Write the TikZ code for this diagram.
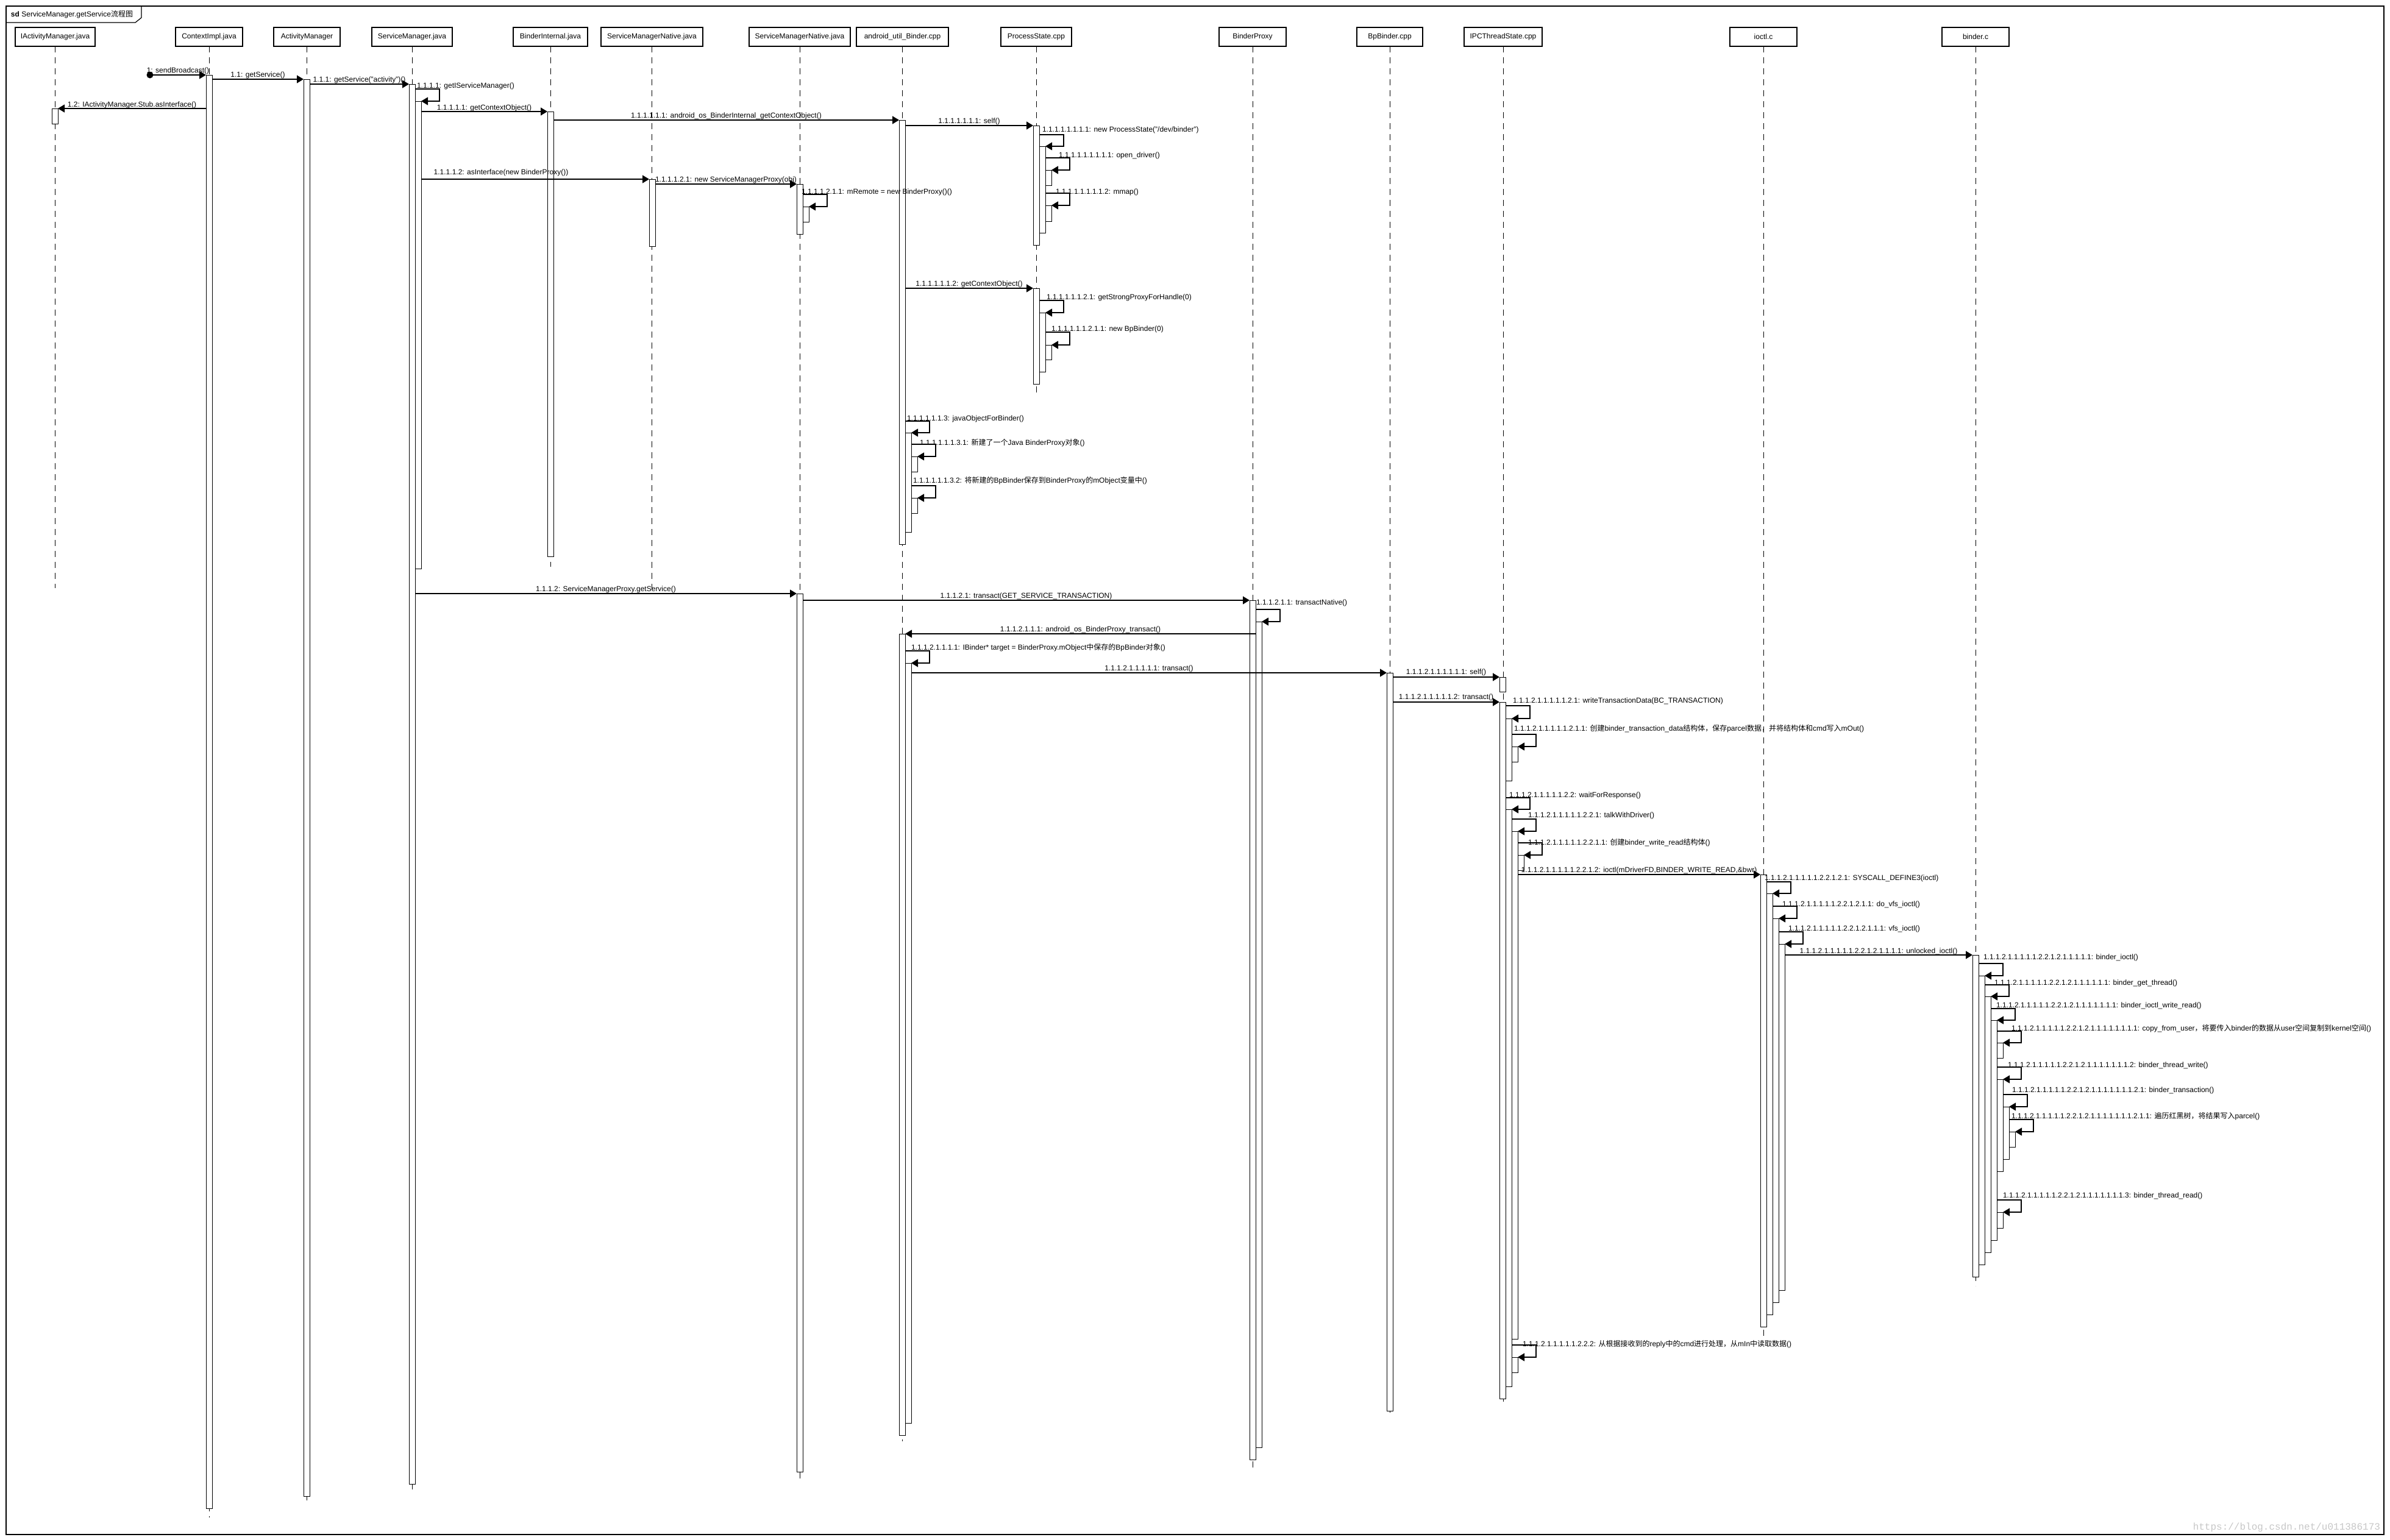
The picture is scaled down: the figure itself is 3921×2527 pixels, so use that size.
\documentclass[tikz,border=0pt]{standalone}
\usepackage{fontspec}
\setmainfont{Liberation Sans}
\newfontfamily\cjk{Noto Sans CJK SC}
\newfontfamily\wmfont{Liberation Mono}
\usetikzlibrary{arrows.meta}
\newcommand\zh[1]{{\cjk #1}}
\newcommand\hb[4]{\node[hdr, minimum width={(#3-#2)*0.25pt}] (#1) at ({(#2+#3)/2},60.5) {#4};
  \draw[line width=0.6pt] (#1.south west) -- (#1.south east) -- (#1.north east);}
\newcommand\lifel[2]{\draw[lifeline] (#1.south) -- (#1.south |- 0,#2);}
\newcommand\actb[4]{\node[abar, minimum height={(#4-#3)*0.25pt}] (#1) at (#2,#3) {};}
\newcommand\msgR[6]{\draw[msg] (#2.east |- 0,#4) -- node[midway, yshift={(#4-#5)*0.25pt}] (#1) {#6} (#3.west |- 0,#4);}
\newcommand\msgRx[7]{\draw[msg] (#2.east |- 0,#4) -- (#3.west |- 0,#4); \node (#1) at (#5,#6) {#7};}
\newcommand\msgL[6]{\draw[msg] (#2.west |- 0,#4) -- node[midway, yshift={(#4-#5)*0.25pt}] (#1) {#6} (#3.east |- 0,#4);}
\newcommand\msgS[8]{\draw[msg] (#2.east |- 0,#4) -- ++(40,0) |- (#3.east |- 0,#5); \node[anchor=west] (#1) at (#6,#7) {#8};}
\begin{document}
\begin{tikzpicture}[x=0.25pt,y=-0.25pt,
 every node/.style={font=\fontsize{3pt}{3.6pt}\selectfont, inner sep=0pt, outer sep=0pt},
 hdr/.style={draw, line width=0.3pt, minimum height=7.75pt, fill=white},
 lifeline/.style={line width=0.25pt, dash pattern=on 2.5pt off 2pt},
 abar/.style={draw, fill=white, line width=0.25pt, minimum width=2.5pt, anchor=north west},
 msg/.style={line width=0.3pt, -{Triangle[length=2.75pt,width=3.25pt]}}]
\fill[white] (0,0) rectangle (3921,2527);
\useasboundingbox (0,0) rectangle (3921,2527);
% frame
\draw[line width=0.35pt] (10,10) rectangle (3911,2518);
\draw[line width=0.3pt] (10,37) -- (222,37) -- (232,29) -- (232,10);
\node[anchor=west] (title) at (18,24) {\textbf{sd} ServiceManager.getService\zh{流程图}};
% headers
\hb{hIAM}{25}{156}{IActivityManager.java}
\hb{hCtx}{288}{398}{ContextImpl.java}
\hb{hAM}{449}{558}{ActivityManager}
\hb{hSM}{610}{742}{ServiceManager.java}
\hb{hBI}{842}{964}{BinderInternal.java}
\hb{hSMN}{986}{1153}{ServiceManagerNative.java}
\hb{hSMP}{1229}{1395}{ServiceManagerNative.java}
\hb{hUB}{1405}{1556}{android\_util\_Binder.cpp}
\hb{hPS}{1642}{1758}{ProcessState.cpp}
\hb{hBP}{2000}{2110}{BinderProxy}
\hb{hBB}{2226}{2334}{BpBinder.cpp}
\hb{hIPC}{2402}{2530}{IPCThreadState.cpp}
\hb{hIO}{2838}{2948}{ioctl.c}
\hb{hBC}{3186}{3296}{binder.c}
% lifelines
\lifel{hIAM}{965}
\lifel{hCtx}{2490}
\lifel{hAM}{2468}
\lifel{hSM}{2450}
\lifel{hBI}{930}
\lifel{hSMN}{967}
\lifel{hSMP}{2428}
\lifel{hUB}{2365}
\lifel{hPS}{645}
\lifel{hBP}{2408}
\lifel{hBB}{2325}
\lifel{hIPC}{2305}
\lifel{hIO}{2192}
\lifel{hBC}{2110}
% activation bars
\actb{ctx}{338}{123}{2475}
\actb{iam}{85}{178}{203}
\actb{am}{498}{130}{2455}
\actb{sm}{671}{138}{2435}
\actb{smA}{681}{166}{933}
\actb{bi}{898}{183}{913}
\actb{ubA}{1475}{197}{893}
\actb{ubAa}{1485}{710}{873}
\actb{ubAb}{1495}{749}{774}
\actb{ubAc}{1495}{817}{842}
\actb{ubB}{1475}{1040}{2355}
\actb{ubBa}{1485}{1088}{2335}
\actb{psA}{1695}{206}{402}
\actb{psAa}{1705}{240}{382}
\actb{psAb}{1715}{279}{304}
\actb{psAc}{1715}{337}{363}
\actb{psB}{1695}{473}{630}
\actb{psBa}{1705}{513}{610}
\actb{psBb}{1715}{566}{590}
\actb{smn}{1065}{294}{404}
\actb{smpA}{1307}{302}{384}
\actb{smpAa}{1317}{339}{364}
\actb{smpB}{1307}{974}{2415}
\actb{bp}{2050}{985}{2395}
\actb{bpa}{2060}{1020}{2375}
\actb{bb}{2275}{1104}{2315}
\actb{ipcA}{2460}{1111}{1135}
\actb{ipcB}{2460}{1152}{2295}
\actb{ipcBa}{2470}{1179}{1281}
\actb{ipcBb}{2480}{1225}{1250}
\actb{ipcBc}{2470}{1328}{2275}
\actb{ipcBd}{2480}{1364}{2197}
\actb{ipcBe}{2490}{1403}{1428}
\actb{ipcBf}{2480}{2227}{2252}
\actb{io}{2888}{1435}{2177}
\actb{ioa}{2898}{1466}{2157}
\actb{iob}{2908}{1507}{2137}
\actb{ioc}{2918}{1549}{2117}
\actb{bc}{3236}{1567}{2095}
\actb{bca}{3246}{1601}{2075}
\actb{bcb}{3256}{1635}{2055}
\actb{bcc}{3266}{1674}{2035}
\actb{bcd}{3276}{1711}{1736}
\actb{bce}{3276}{1771}{1922}
\actb{bcf}{3286}{1816}{1902}
\actb{bcg}{3296}{1857}{1882}
\actb{bch}{3276}{1989}{2015}
% messages
\node[circle, fill=black, minimum size=2.75pt] (start) at (246,123) {};
\draw[msg] (start.center) -- node[midway, yshift=1.75pt] (m1) {1: sendBroadcast()} (ctx.west |- 0,123);
\msgR{m2}{ctx}{am}{130}{123}{1.1: getService()}
\msgR{m3}{am}{sm}{138}{131}{1.1.1: getService("activity")()}
\msgS{m4}{sm}{smA}{146}{166}{684}{141}{1.1.1.1: getIServiceManager()}
\msgL{m5}{ctx}{iam}{178}{172}{1.2: IActivityManager.Stub.asInterface()}
\msgR{m6}{smA}{bi}{183}{177}{1.1.1.1.1: getContextObject()}
\msgR{m7}{bi}{ubA}{197}{190}{1.1.1.1.1.1: android\_os\_BinderInternal\_getContextObject()}
\msgR{m8}{ubA}{psA}{206}{199}{1.1.1.1.1.1.1: self()}
\msgS{m9}{psA}{psAa}{221}{240}{1710}{213}{1.1.1.1.1.1.1.1: new ProcessState("/dev/binder")}
\msgS{m10}{psAa}{psAb}{259}{279}{1737}{255}{1.1.1.1.1.1.1.1.1: open\_driver()}
\msgS{m11}{psAa}{psAc}{317}{337}{1732}{315}{1.1.1.1.1.1.1.1.2: mmap()}
\msgRx{m12}{smA}{smn}{294}{822}{283}{1.1.1.1.2: asInterface(new BinderProxy())}
\msgR{m13}{smn}{smpA}{302}{295}{1.1.1.1.2.1: new ServiceManagerProxy(obj)}
\msgS{m14}{smpA}{smpAa}{319}{339}{1315}{315}{1.1.1.1.2.1.1: mRemote = new BinderProxy()()}
\msgR{m15}{ubA}{psB}{473}{466}{1.1.1.1.1.1.2: getContextObject()}
\msgS{m16}{psB}{psBa}{493}{513}{1717}{488}{1.1.1.1.1.1.2.1: getStrongProxyForHandle(0)}
\msgS{m17}{psBa}{psBb}{545}{566}{1725}{540}{1.1.1.1.1.1.2.1.1: new BpBinder(0)}
\msgS{m18}{ubA}{ubAa}{691}{710}{1488}{687}{1.1.1.1.1.1.3: javaObjectForBinder()}
\msgS{m19}{ubAa}{ubAb}{729}{749}{1509}{727}{1.1.1.1.1.1.3.1: \zh{新建了一个}Java BinderProxy\zh{对象}()}
\msgS{m20}{ubAa}{ubAc}{797}{817}{1498}{789}{1.1.1.1.1.1.3.2: \zh{将新建的}BpBinder\zh{保存到}BinderProxy\zh{的}mObject\zh{变量中}()}
\msgR{m21}{sm}{smpB}{974}{967}{1.1.1.2: ServiceManagerProxy.getService()}
\msgR{m22}{smpB}{bp}{985}{978}{1.1.1.2.1: transact(GET\_SERVICE\_TRANSACTION)}
\msgS{m23}{bp}{bpa}{1000}{1020}{2061}{989}{1.1.1.2.1.1: transactNative()}
\msgL{m24}{bpa}{ubB}{1040}{1033}{1.1.1.2.1.1.1: android\_os\_BinderProxy\_transact()}
\msgS{m25}{ubB}{ubBa}{1068}{1088}{1495}{1063}{1.1.1.2.1.1.1.1: IBinder* target = BinderProxy.mObject\zh{中保存的}BpBinder\zh{对象}()}
\msgR{m26}{ubBa}{bb}{1104}{1097}{1.1.1.2.1.1.1.1.1: transact()}
\msgR{m27}{bb}{ipcA}{1111}{1103}{1.1.1.2.1.1.1.1.1.1: self()}
\msgR{m28}{bb}{ipcB}{1152}{1144}{1.1.1.2.1.1.1.1.1.2: transact()}
\msgS{m29}{ipcB}{ipcBa}{1158}{1179}{2482}{1150}{1.1.1.2.1.1.1.1.1.2.1: writeTransactionData(BC\_TRANSACTION)}
\msgS{m30}{ipcBa}{ipcBb}{1205}{1225}{2484}{1196}{1.1.1.2.1.1.1.1.1.2.1.1: \zh{创建}binder\_transaction\_data\zh{结构体，保存}parcel\zh{数据，并将结构体和}cmd\zh{写入}mOut()}
\msgS{m31}{ipcB}{ipcBc}{1309}{1328}{2476}{1305}{1.1.1.2.1.1.1.1.1.2.2: waitForResponse()}
\msgS{m32}{ipcBc}{ipcBd}{1344}{1364}{2507}{1338}{1.1.1.2.1.1.1.1.1.2.2.1: talkWithDriver()}
\msgS{m33}{ipcBd}{ipcBe}{1383}{1403}{2507}{1383}{1.1.1.2.1.1.1.1.1.2.2.1.1: \zh{创建}binder\_write\_read\zh{结构体}()}
\msgR{m34}{ipcBd}{io}{1435}{1428}{1.1.1.2.1.1.1.1.1.2.2.1.2: ioctl(mDriverFD,BINDER\_WRITE\_READ,\&bwr)}
\msgS{m35}{io}{ioa}{1447}{1466}{2895}{1441}{1.1.1.2.1.1.1.1.1.2.2.1.2.1: SYSCALL\_DEFINE3(ioctl)}
\msgS{m36}{ioa}{iob}{1487}{1507}{2924}{1484}{1.1.1.2.1.1.1.1.1.2.2.1.2.1.1: do\_vfs\_ioctl()}
\msgS{m37}{iob}{ioc}{1529}{1549}{2934}{1524}{1.1.1.2.1.1.1.1.1.2.2.1.2.1.1.1: vfs\_ioctl()}
\msgR{m38}{ioc}{bc}{1567}{1561}{1.1.1.2.1.1.1.1.1.2.2.1.2.1.1.1.1: unlocked\_ioctl()}
\msgS{m39}{bc}{bca}{1581}{1601}{3254}{1571}{1.1.1.2.1.1.1.1.1.2.2.1.2.1.1.1.1.1: binder\_ioctl()}
\msgS{m40}{bca}{bcb}{1616}{1635}{3272}{1613}{1.1.1.2.1.1.1.1.1.2.2.1.2.1.1.1.1.1.1: binder\_get\_thread()}
\msgS{m41}{bcb}{bcc}{1655}{1674}{3275}{1650}{1.1.1.2.1.1.1.1.1.2.2.1.2.1.1.1.1.1.1.1: binder\_ioctl\_write\_read()}
\msgS{m42}{bcc}{bcd}{1692}{1711}{3300}{1688}{1.1.1.2.1.1.1.1.1.2.2.1.2.1.1.1.1.1.1.1.1: copy\_from\_user\zh{，将要传入}binder\zh{的数据从}user\zh{空间复制到}kernel\zh{空间}()}
\msgS{m43}{bcc}{bce}{1751}{1771}{3294}{1748}{1.1.1.2.1.1.1.1.1.2.2.1.2.1.1.1.1.1.1.1.2: binder\_thread\_write()}
\msgS{m44}{bce}{bcf}{1796}{1816}{3301}{1789}{1.1.1.2.1.1.1.1.1.2.2.1.2.1.1.1.1.1.1.1.2.1: binder\_transaction()}
\msgS{m45}{bcf}{bcg}{1837}{1857}{3300}{1832}{1.1.1.2.1.1.1.1.1.2.2.1.2.1.1.1.1.1.1.1.2.1.1: \zh{遍历红黑树，将结果写入}parcel()}
\msgS{m46}{bcc}{bch}{1969}{1989}{3286}{1962}{1.1.1.2.1.1.1.1.1.2.2.1.2.1.1.1.1.1.1.1.3: binder\_thread\_read()}
\msgS{m47}{ipcBc}{ipcBf}{2207}{2227}{2498}{2206}{1.1.1.2.1.1.1.1.1.2.2.2: \zh{从根据接收到的}reply\zh{中的}cmd\zh{进行处理，从}mIn\zh{中读取数据}()}
% watermark
\node[anchor=east, text=black!22, font=\wmfont\fontsize{4pt}{4.8pt}\selectfont] (wm) at (3905,2506) {https://blog.csdn.net/u011386173};
\end{tikzpicture}
\end{document}
